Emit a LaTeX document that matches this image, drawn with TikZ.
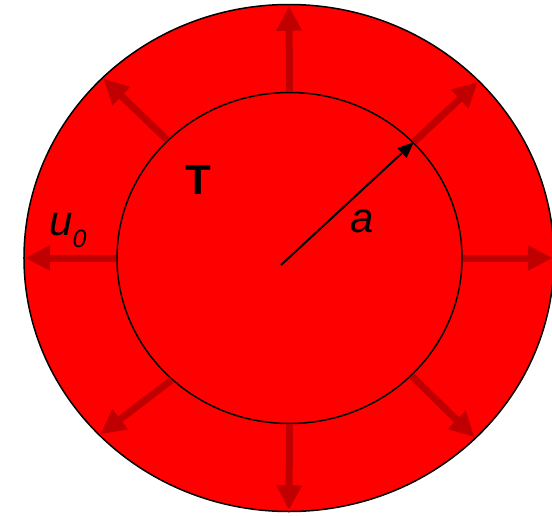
\documentclass[tikz,border=0pt]{standalone}
\usepackage{fontspec}
\setmainfont{Liberation Sans}
\usetikzlibrary{shapes.geometric, arrows.meta}
\definecolor{hotred}{HTML}{FF0000}
\definecolor{darkred}{HTML}{C00000}

\tikzset{
  disc/.style={ellipse, draw=black, fill=hotred, line width=1.5pt, inner sep=0pt},
  push/.style={draw=darkred, line width=7pt, -{Triangle[length=25pt, width=24pt]}, shorten >=2pt},
  lbl/.style={font=\fontsize{42}{48}\selectfont, inner sep=0pt}
}

\begin{document}
\begin{tikzpicture}[x=1pt, y=1pt]
  \useasboundingbox (-289,-257) rectangle (263,258);
  \node[disc, minimum width=530pt, minimum height=507pt] (shell) at (0,0) {};
  \node[disc, minimum width=345pt, minimum height=331pt] (core) at (0.5,0) {};
  % radial displacement arrows
  \foreach \s/\e in {90/90, 43.5/43.6, 0/0, 316.2/316.4, 270/270, 226.2/223.7, 180/180, 136/136.6}
    \draw[push] (core.\s) -- (shell.\e);
  % radius
  \coordinate (foot) at (-8,-7);
  \draw[line width=2pt, -{Triangle[length=16pt, width=13pt]}] (foot) -- (core.43.5);
  \node[lbl, font=\fontsize{42}{48}\selectfont\bfseries] (temp) at (-91,77.5) {T};
  \node[lbl, font=\fontsize{42}{48}\selectfont\itshape] (rad) at (73.5,36.5) {a};
  \node[lbl, anchor=base west] (disp) at (-240,23)
    {\textit{u}\raisebox{-12pt}{\fontsize{25}{30}\selectfont\itshape 0}};
\end{tikzpicture}
\end{document}
